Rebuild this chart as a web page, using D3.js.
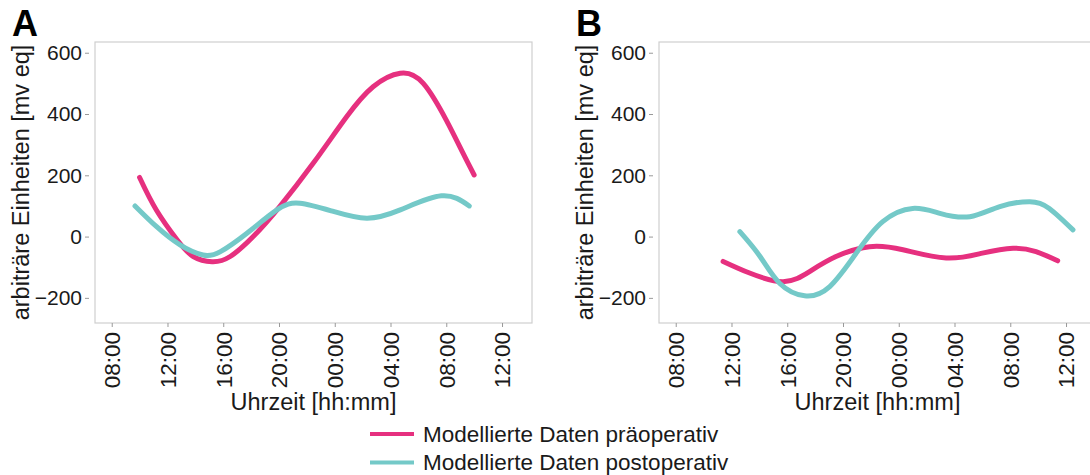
<!DOCTYPE html>
<html>
<head>
<meta charset="utf-8">
<script src="https://cdn.jsdelivr.net/npm/d3@7"></script>
<style>
  body { margin: 0; background: #fff; }
  svg { display: block; font-family: "Liberation Sans", Arial, sans-serif; }
</style>
</head>
<body>
<svg id="chart" width="1090" height="475"></svg>
<script>
// hours counted from midnight of the first day (36 = 12:00 next day)
const hourTicks = [8, 12, 16, 20, 24, 28, 32, 36];
const valueTicks = [-200, 0, 200, 400, 600];

const preA_hours = [10.0, 11.2, 12.7, 13.85, 15.2, 16.5, 18.15, 20.05, 22.45, 24.85, 26.75, 28.7, 30.35, 32.0, 33.2, 34.0];
const preA_values = [193, 87, -11, -65, -82, -65, 0, 98, 239, 391, 489, 533, 500, 380, 272, 201];
const postA_hours = [9.67, 11.2, 12.9, 14.55, 15.8, 17.7, 19.85, 21.5, 23.9, 26.3, 28.7, 31.65, 33.65];
const postA_values = [100, 33, -27, -60, -49, 11, 87, 109, 82, 60, 87, 133, 100];

const preB_hours = [11.4, 13.3, 15.7, 17.6, 19.5, 21.9, 24.3, 27.4, 30.0, 32.2, 33.85, 35.4];
const preB_values = [-81, -119, -147, -114, -65, -33, -43, -70, -54, -38, -49, -79];
const postB_hours = [12.6, 14.05, 15.45, 17.25, 19.05, 20.95, 22.85, 25.0, 26.95, 29.1, 31.25, 33.4, 34.8, 36.5];
const postB_values = [16, -65, -152, -193, -163, -54, 49, 92, 76, 65, 98, 114, 92, 22];

const seriesNames = ["Modellierte Daten präoperativ", "Modellierte Daten postoperativ"];
const seriesColors = ["#e6307f", "#74c9c8"];

const svg = d3.select("#chart");
const textColor = "#1a1a1a";

function zip(hours, values) {
  return hours.map((h, i) => [h, values[i]]);
}

function drawPanel(letter, left, pre, post) {
  const top = 42, width = 437, height = 281;
  const g = svg.append("g").attr("transform", `translate(${left},${top})`);

  const x = d3.scaleLinear().domain([6.8, 38.15]).range([0, width]);
  const y = d3.scaleLinear().domain([-282, 635]).range([height, 0]);

  // plot frame
  g.append("rect")
    .attr("width", width)
    .attr("height", height)
    .attr("fill", "none")
    .attr("stroke", "#cfcfcf")
    .attr("stroke-width", 1.2);

  // y axis ticks and labels
  const yAxis = g.append("g").attr("transform", "translate(-6,0)")
    .call(d3.axisLeft(y).tickValues(valueTicks).tickSize(4).tickPadding(3).tickFormat(d3.format("d")));
  yAxis.select(".domain").remove();
  yAxis.selectAll("line").attr("stroke", "#999");
  yAxis.selectAll("text").attr("font-size", 21).attr("fill", textColor).attr("font-family", "Liberation Sans, Arial, sans-serif");

  // x axis ticks and rotated labels
  const fmt = h => String(h % 24).padStart(2, "0") + ":00";
  const xAxis = g.append("g").attr("transform", `translate(0,${height})`)
    .call(d3.axisBottom(x).tickValues(hourTicks).tickSize(4).tickFormat(fmt));
  xAxis.select(".domain").remove();
  xAxis.selectAll("line").attr("stroke", "#999");
  xAxis.selectAll("text")
    .attr("font-size", 22.5)
    .attr("fill", textColor)
    .attr("font-family", "Liberation Sans, Arial, sans-serif")
    .attr("transform", "rotate(-90)")
    .attr("text-anchor", "end")
    .attr("x", -9)
    .attr("y", 0)
    .attr("dy", "0.35em");

  // axis titles
  g.append("text")
    .attr("x", width / 2)
    .attr("y", height + 87)
    .attr("text-anchor", "middle")
    .attr("font-size", 23.5)
    .attr("fill", textColor)
    .text("Uhrzeit [hh:mm]");

  g.append("text")
    .attr("transform", `translate(${-66},${height / 2}) rotate(-90)`)
    .attr("text-anchor", "middle")
    .attr("font-size", 23.5)
    .attr("fill", textColor)
    .text("arbiträre Einheiten [mv eq]");

  // panel letter
  svg.append("text")
    .attr("x", left - 83)
    .attr("y", 36)
    .attr("font-size", 36)
    .attr("font-weight", "bold")
    .attr("fill", "#000")
    .text(letter);

  const line = d3.line()
    .x(d => x(d[0]))
    .y(d => y(d[1]))
    .curve(d3.curveNatural);

  [pre, post].forEach((data, i) => {
    g.append("path")
      .datum(data)
      .attr("d", line)
      .attr("fill", "none")
      .attr("stroke", seriesColors[i])
      .attr("stroke-width", 5)
      .attr("stroke-linecap", "round");
  });
}

drawPanel("A", 95, zip(preA_hours, preA_values), zip(postA_hours, postA_values));
drawPanel("B", 659, zip(preB_hours, preB_values), zip(postB_hours, postB_values));

// legend
const legend = svg.append("g").attr("transform", "translate(370,434)");
seriesNames.forEach((name, i) => {
  const row = legend.append("g").attr("transform", `translate(0,${i * 28.5})`);
  row.append("line")
    .attr("x1", 0).attr("x2", 44)
    .attr("stroke", seriesColors[i])
    .attr("stroke-width", 4);
  row.append("text")
    .attr("x", 53)
    .attr("dy", "0.35em")
    .attr("font-size", 22.5)
    .attr("fill", textColor)
    .text(name);
});
</script>
</body>
</html>
